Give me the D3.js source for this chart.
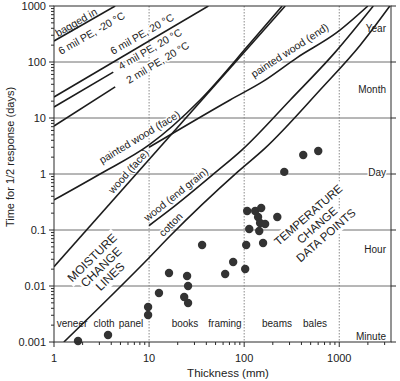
<!DOCTYPE html>
<html><head><meta charset="utf-8">
<script src="https://cdn.jsdelivr.net/npm/d3@7"></script>
<style>html,body{margin:0;padding:0;background:#fff}svg{display:block}</style>
</head><body>
<svg id="c" width="400" height="381"></svg>
<script>
// ---------------- data ----------------
const xTickValues = [1, 10, 100, 1000];
const xTickLabels = ["1", "10", "100", "1000"];
const yTickValues = [0.001, 0.01, 0.1, 1, 10, 100, 1000];
const yTickLabels = ["0.001", "0.01", "0.1", "1", "10", "100", "1000"];
const timeUnitNames = ["Year", "Month", "Day", "Hour", "Minute"];
const timeUnitDays = [365, 30, 1, 1 / 24, 1 / 1440];
const objectNames = ["veneer", "cloth", "panel", "books", "framing", "beams", "bales"];

// moisture change lines: [thickness (mm), time for 1/2 response (days)]
const bagged6milMinus20 = [[1, 237], [4.4, 1000]];
const pe6mil20 = [[1, 23.7], [42, 1000]];
const pe4mil20 = [[1, 15.7], [4.2, 66]];
const pe2mil20 = [[1, 7.2], [4.4, 36]];
const paintedWoodFace = [[1, 0.344], [3.05, 1.0], [10, 3.3], [34.4, 21], [116, 218], [251, 1000]];
const woodFace = [[1, 0.022], [270, 1000]];
const paintedWoodEnd = [[10, 3.0], [71, 21], [158, 45], [361, 120], [953, 340], [2000, 1000]];
const woodEndGrain = [[10, 0.12], [16.6, 0.23], [51, 1.1], [95, 2.7], [305, 21], [908, 150], [2280, 1000]];
const cotton = [[1.27, 0.001], [10, 0.032], [16.6, 0.078], [86, 1.1], [166, 2.9], [631, 32], [1660, 200], [3400, 1000]];

// temperature change data points
const tempThickness = [1.79, 3.70, 9.76, 9.76, 12.7, 16.2, 25.1, 25.7, 23.4, 25.7, 36.1, 63.1, 76.6, 102.5, 105, 113, 107.5, 130.5, 151, 140, 147, 166, 144, 158, 223, 264, 418, 601];
const tempTime = [0.00104, 0.00133, 0.00422, 0.00303, 0.0075, 0.0171, 0.0151, 0.01, 0.00637, 0.00497, 0.054, 0.0164, 0.0268, 0.0201, 0.054, 0.104, 0.218, 0.218, 0.247, 0.171, 0.133, 0.128, 0.096, 0.0586, 0.171, 1.09, 2.18, 2.58];

// ---------------- layout ----------------
const L = 54, R = 391, T = 6, B = 342;
const svg = d3.select("#c");
const font = "'Liberation Sans', Arial, Helvetica, sans-serif";
const ink = "#222";
const x = d3.scaleLog().domain([1, 3500]).range([L, R]);
const y = d3.scaleLog().domain([0.001, 1000]).range([B, T]);

const gGrid = svg.append("g");
const gAnn = svg.append("g").attr("font-family", font).attr("fill", ink);
const gCurves = svg.append("g");
const gDots = svg.append("g");
const gAxes = svg.append("g").attr("stroke", "#2a2a2a").attr("stroke-width", 1);
const gText = svg.append("g").attr("font-family", font).attr("fill", ink);

// grid
gGrid.selectAll("line.h").data(yTickValues.slice(1, -1)).join("line")
  .attr("x1", L).attr("x2", R).attr("y1", d => y(d)).attr("y2", d => y(d))
  .attr("stroke", "#6e6e6e").attr("stroke-width", 1);
gGrid.selectAll("line.v").data(xTickValues.slice(1)).join("line")
  .attr("y1", T).attr("y2", B).attr("x1", d => x(d)).attr("x2", d => x(d))
  .attr("stroke", "#8a8a8a").attr("stroke-width", 1).attr("stroke-dasharray", "1.5,1.5");

// curves
svg.append("clipPath").attr("id", "clip").append("rect")
  .attr("x", L).attr("y", T).attr("width", R - L).attr("height", B - T);
const lineGen = d3.line().x(d => x(d[0])).y(d => y(d[1])).curve(d3.curveMonotoneX);
const curveData = {bagged6milMinus20, pe6mil20, pe4mil20, pe2mil20, paintedWoodFace, woodFace, paintedWoodEnd, woodEndGrain, cotton};
const paths = {};
gCurves.attr("clip-path", "url(#clip)");
Object.keys(curveData).forEach(k => {
  paths[k] = gCurves.append("path").attr("d", lineGen(curveData[k]))
    .attr("fill", "none").attr("stroke", "#1c1c1c").attr("stroke-width", 1.6);
});

// annotations
function halo(t) {
  return t.attr("stroke", "#fff").attr("stroke-width", 3)
    .attr("paint-order", "stroke").attr("stroke-linejoin", "round");
}
function label(txt, px, py, ang, size) {
  halo(gAnn.append("text").attr("transform", `translate(${px},${py}) rotate(${ang})`)
    .attr("font-size", size).text(txt));
}
// label placed along a curve, starting at pixel x0, offset perpendicular (up) by off
function pathLabel(key, txt, x0, off, size) {
  const node = paths[key].node();
  const total = node.getTotalLength();
  let lo = 0, hi = total;
  for (let i = 0; i < 40; i++) {
    const m = (lo + hi) / 2;
    if (node.getPointAtLength(m).x < x0) lo = m; else hi = m;
  }
  const t = halo(gAnn.append("text").attr("font-size", size).text(txt));
  const w = t.node().getComputedTextLength();
  const p0 = node.getPointAtLength(lo), p1 = node.getPointAtLength(Math.min(total, lo + w));
  const a = Math.atan2(p1.y - p0.y, p1.x - p0.x);
  const px = p0.x + Math.sin(a) * off, py = p0.y - Math.cos(a) * off;
  t.attr("transform", `translate(${px},${py}) rotate(${a * 180 / Math.PI})`);
}
label("bagged in", 58, 37, -30, 10.5);
label("6 mil PE, -20 °C", 61, 55, -30, 10.5);
label("6 mil PE, 20 °C", 113, 55, -30, 10.5);
label("4 mil PE, 20 °C", 121, 70, -30, 10.5);
label("2 mil PE, 20 °C", 129, 84, -31, 10.5);
label("painted wood (face)", 102, 164, -31, 10.5);
label("painted wood (end)", 254, 78, -33, 10.5);
pathLabel("woodFace", "wood (face)", 116, 4, 10.5);
pathLabel("woodEndGrain", "wood (end grain)", 150, 4, 10.5);
pathLabel("cotton", "cotton", 166, 4, 10.5);

function block(lines, cx, cy, ang, size, gap) {
  const g = gAnn.append("g").attr("transform", `translate(${cx},${cy}) rotate(${ang})`);
  const n = lines.length;
  lines.forEach((s, i) => {
    const t = g.append("text").attr("text-anchor", "middle").attr("font-size", size)
      .attr("y", (i - (n - 1) / 2) * gap + size * 0.36).text(s);
    const bb = t.node().getBBox();
    g.insert("rect", "text").attr("x", bb.x - 2).attr("y", bb.y - 1)
      .attr("width", bb.width + 4).attr("height", bb.height + 2).attr("fill", "#fff");
  });
}
block(["MOISTURE", "CHANGE", "LINES"], 101, 267, -44, 12, 13);
block(["TEMPERATURE", "CHANGE", "DATA POINTS"], 317, 225, -41, 11.5, 13.5);

// object category labels along bottom
const objectX = [72, 104, 131, 185, 225, 277, 315];
halo(gAnn.selectAll("text.obj").data(objectNames).join("text")
  .attr("x", (d, i) => objectX[i]).attr("y", 327).attr("text-anchor", "middle")
  .attr("font-size", 10).text(d => d));

// time unit labels on right
halo(gAnn.selectAll("text.unit").data(timeUnitNames).join("text")
  .attr("x", 386).attr("text-anchor", "end").attr("font-size", 10)
  .attr("y", (d, i) => Math.min(y(timeUnitDays[i]) - 2, B - 6))
  .attr("dominant-baseline", "central").text(d => d));

// data points
gDots.selectAll("circle").data(tempThickness).join("circle")
  .attr("cx", d => x(d)).attr("cy", (d, i) => y(tempTime[i])).attr("r", 4.2)
  .attr("fill", "#333");

// frame and ticks
gAxes.append("rect").attr("x", L).attr("y", T).attr("width", R - L).attr("height", B - T).attr("fill", "none");
const yMinor = [], xMinor = [];
yTickValues.slice(0, -1).forEach(d => { for (let k = 2; k <= 9; k++) yMinor.push(d * k); });
xTickValues.forEach(d => { for (let k = 2; k <= 9; k++) if (d * k <= 3500) xMinor.push(d * k); });
yTickValues.forEach(v => {
  gAxes.append("line").attr("x1", L - 5).attr("x2", L).attr("y1", y(v)).attr("y2", y(v));
  gAxes.append("line").attr("x1", R).attr("x2", R + 5).attr("y1", y(v)).attr("y2", y(v));
});
yMinor.forEach(v => gAxes.append("line").attr("x1", L - 3).attr("x2", L).attr("y1", y(v)).attr("y2", y(v)));
xTickValues.forEach(v => gAxes.append("line").attr("x1", x(v)).attr("x2", x(v)).attr("y1", B).attr("y2", B + 5));
xMinor.forEach(v => gAxes.append("line").attr("x1", x(v)).attr("x2", x(v)).attr("y1", B).attr("y2", B + 3));

// tick labels
gText.selectAll("text.y").data(yTickValues).join("text")
  .attr("font-size", 11).attr("x", 46).attr("y", d => y(d)).attr("dominant-baseline", "central")
  .attr("text-anchor", "end").text((d, i) => yTickLabels[i]);
gText.selectAll("text.x").data(xTickValues).join("text")
  .attr("font-size", 11).attr("x", d => x(d)).attr("y", 362).attr("text-anchor", "middle")
  .text((d, i) => xTickLabels[i]);

// axis titles
gText.append("text").attr("font-size", 11.5)
  .attr("x", 228).attr("y", 377).attr("text-anchor", "middle").text("Thickness (mm)");
gText.append("text").attr("font-size", 11)
  .attr("transform", "translate(14,157) rotate(-90)").attr("text-anchor", "middle")
  .text("Time for 1/2 response (days)");
</script>
</body></html>
